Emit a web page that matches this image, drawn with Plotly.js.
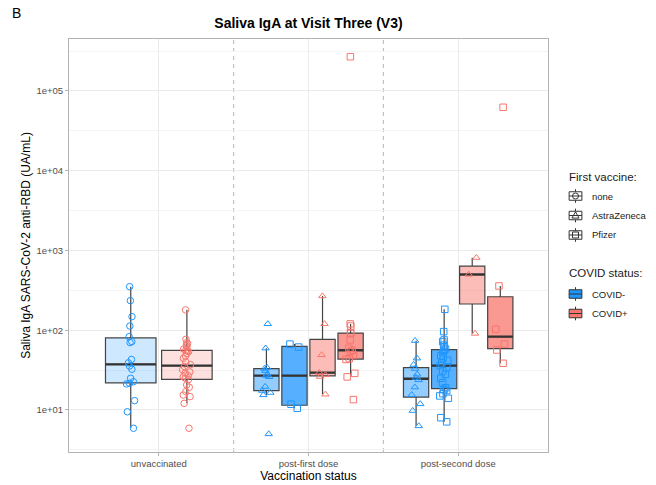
<!DOCTYPE html>
<html>
<head>
<meta charset="utf-8">
<script src="https://cdn.plot.ly/plotly-3.0.1.min.js"></script>
<style>
  html, body { margin: 0; padding: 0; background: #ffffff; }
  #chart { width: 656px; height: 485px; }
</style>
</head>
<body>
<div id="chart"></div>
<script>
// ---- data -----------------------------------------------------------------
const categories = ['unvaccinated', 'post-first dose', 'post-second dose'];
const vaccines = ['none', 'AstraZeneca', 'Pfizer'];
const covidStatus = ['COVID-', 'COVID+'];

// Saliva IgA anti-RBD (UA/mL), one array per vaccination status / first vaccine / COVID status
const unvaccinatedNeg = [352, 235, 148, 113, 83, 72, 70, 43, 39, 35.6, 32.4, 25, 22.6, 21.6, 21.2, 13.1, 9.5, 5.9];
const unvaccinatedPos = [180, 77, 70, 68, 65, 62, 58, 56, 55, 54, 51, 47.5, 44.5, 40, 37, 35, 32, 30, 29, 27,
                         26, 25, 24, 20.6, 19.3, 17, 15.4, 14.7, 12.1, 5.9];
const firstAzNeg = [120, 59.5, 34, 33, 31, 28, 27, 26, 19.6, 17.5, 16.5, 15.4, 5.0];
const firstPfNeg = [67, 61.5, 11.8, 10.5];
const firstAzPos = [268, 120, 49, 29.4, 27.5, 26.2, 15.7];
const firstPfPos = [269000, 120, 113, 93, 91, 75.5, 59.5, 56, 54, 49, 44, 43, 28.8, 26, 13.5];
const secondAzNeg = [74, 44.5, 37, 33, 28, 25.5, 23.8, 19.3, 15.5, 11.9, 9.8, 6.3];
const secondPfNeg = [183, 96, 75.5, 72, 65, 62, 58, 56, 52, 48, 45, 42, 39, 36, 34, 31, 28, 25, 22, 19,
                     18, 17.5, 16, 15, 14, 8, 7.1];
const secondAzPos = [813, 500, 91];
const secondPfPos = [62500, 359, 103, 67, 56.5, 38.5];

const yTickValues = [1e1, 1e2, 1e3, 1e4, 1e5];
const yTickLabels = ['1e+01', '1e+02', '1e+03', '1e+04', '1e+05'];

// groups in dodge order within each vaccination status
const groups = [
  { cat: 0, vac: 0, cov: 0, vals: unvaccinatedNeg },
  { cat: 0, vac: 0, cov: 1, vals: unvaccinatedPos },
  { cat: 1, vac: 1, cov: 0, vals: firstAzNeg },
  { cat: 1, vac: 2, cov: 0, vals: firstPfNeg },
  { cat: 1, vac: 1, cov: 1, vals: firstAzPos },
  { cat: 1, vac: 2, cov: 1, vals: firstPfPos },
  { cat: 2, vac: 1, cov: 0, vals: secondAzNeg },
  { cat: 2, vac: 2, cov: 0, vals: secondPfNeg },
  { cat: 2, vac: 1, cov: 1, vals: secondAzPos },
  { cat: 2, vac: 2, cov: 1, vals: secondPfPos }
];

// ---- styling ----------------------------------------------------------------
const covidRGB = ['30,150,255', '248,118,109'];
const vaccineAlpha = [0.22, 0.48, 0.75];
const vaccineSymbol = ['circle-open', 'triangle-up-open', 'square-open'];
const boxLine = '#444444';
const FONT = 'Liberation Sans, Arial, Helvetica, sans-serif';

// Tukey box statistics computed on the log10 scale (quantile type 7)
function quantile(sorted, p) {
  const h = (sorted.length - 1) * p;
  const lo = Math.floor(h), hi = Math.ceil(h);
  return sorted[lo] + (h - lo) * (sorted[hi] - sorted[lo]);
}
function boxStats(vals) {
  const l = vals.map(v => Math.log10(v)).sort((a, b) => a - b);
  const q1 = quantile(l, 0.25), med = quantile(l, 0.5), q3 = quantile(l, 0.75);
  const iqr = q3 - q1;
  const lo = l.find(v => v >= q1 - 1.5 * iqr);
  const hi = l.slice().reverse().find(v => v <= q3 + 1.5 * iqr);
  const p = v => Math.pow(10, v);
  return { q1: p(q1), median: p(med), q3: p(q3), lower: p(lo), upper: p(hi) };
}

// dodge positions: 0.75 of each category, split between its groups, 10% padding
const dodgeWidth = 0.75;
categories.forEach((c, ci) => {
  const members = groups.filter(g => g.cat === ci);
  const slot = dodgeWidth / members.length;
  members.forEach((g, i) => {
    g.pos = ci + 1 - dodgeWidth / 2 + slot * (i + 0.5);
    g.width = slot * 0.9;
  });
});

const boxTraces = [], medianTraces = [], pointTraces = [];
groups.forEach(g => {
  const s = boxStats(g.vals);
  const rgb = covidRGB[g.cov];
  boxTraces.push({
    type: 'box', x: [g.pos], q1: [s.q1], median: [s.median], q3: [s.q3],
    lowerfence: [s.lower], upperfence: [s.upper], width: g.width,
    fillcolor: `rgba(${rgb},${vaccineAlpha[g.vac]})`,
    line: { color: boxLine, width: 1.2 }, whiskerwidth: 0,
    boxpoints: false, showlegend: false, hoverinfo: 'skip'
  });
  medianTraces.push({
    type: 'box', x: [g.pos], q1: [s.median], median: [s.median], q3: [s.median],
    lowerfence: [s.median], upperfence: [s.median], width: g.width,
    fillcolor: 'rgba(0,0,0,0)', line: { color: '#333333', width: 2.4 }, whiskerwidth: 0,
    boxpoints: false, showlegend: false, hoverinfo: 'skip'
  });
  pointTraces.push({
    type: 'box', x: g.vals.map(() => g.pos), y: g.vals, width: g.width,
    boxpoints: 'all', pointpos: 0, jitter: Math.min(0.45, 0.036 / (g.width / 2)),
    fillcolor: 'rgba(0,0,0,0)', line: { color: 'rgba(0,0,0,0)', width: 0 }, whiskerwidth: 0,
    marker: { symbol: vaccineSymbol[g.vac], size: 6.5, color: `rgb(${rgb})`, line: { width: 1 } },
    showlegend: false, hoverinfo: 'skip'
  });
});

// ---- frame geometry (pixels) ------------------------------------------------
const W = 656, H = 485;
const L = 69, R = 548, T = 39, B = 452;
const px = v => (v - L) / (R - L);
const py = v => (B - v) / (B - T);

const shapes = [];
// dashed separators between vaccination statuses
for (let i = 1; i < categories.length; i++) {
  shapes.push({ type: 'line', xref: 'x', yref: 'paper', x0: i + 0.5, x1: i + 0.5, y0: 0, y1: 1,
                line: { color: '#b5b5b5', width: 1, dash: '4px,4px' }, layer: 'below' });
}

// ---- legends ------------------------------------------------------------------
const annotations = [];
const keyX = 575.5, textX = 590;
function keyGlyph(cy, fill) {
  const half = 8.5;
  const bw = 0.75 * 17 / 2, bh = 0.5 * 17 / 2;
  const ln = { color: '#333333', width: 1 };
  shapes.push({ type: 'line', xref: 'paper', yref: 'paper', x0: px(keyX), x1: px(keyX),
                y0: py(cy - half + 1.7), y1: py(cy - bh), line: ln });
  shapes.push({ type: 'line', xref: 'paper', yref: 'paper', x0: px(keyX), x1: px(keyX),
                y0: py(cy + bh), y1: py(cy + half - 1.7), line: ln });
  shapes.push({ type: 'rect', xref: 'paper', yref: 'paper', x0: px(keyX - bw), x1: px(keyX + bw),
                y0: py(cy + bh), y1: py(cy - bh), line: ln, fillcolor: fill });
  shapes.push({ type: 'line', xref: 'paper', yref: 'paper', x0: px(keyX - bw), x1: px(keyX + bw),
                y0: py(cy), y1: py(cy), line: ln });
}
function keyMarker(cy, vac) {
  const base = { xref: 'paper', yref: 'paper', xsizemode: 'pixel', ysizemode: 'pixel',
                 xanchor: px(keyX), yanchor: py(cy), line: { color: '#333333', width: 1 },
                 fillcolor: 'rgba(0,0,0,0)' };
  if (vac === 0) shapes.push(Object.assign({ type: 'circle', x0: -3, x1: 3, y0: -3, y1: 3 }, base));
  if (vac === 1) shapes.push(Object.assign({ type: 'path', path: 'M-3.6,-2.6 L3.6,-2.6 L0,3.6 Z' }, base));
  if (vac === 2) shapes.push(Object.assign({ type: 'rect', x0: -3, x1: 3, y0: -3, y1: 3 }, base));
}
function legendText(text, x, y, size) {
  annotations.push({ text, xref: 'paper', yref: 'paper', x: px(x), y: py(y), xanchor: 'left',
                     yanchor: 'middle', showarrow: false, font: { family: FONT, size, color: '#1a1a1a' } });
}

legendText('First vaccine:', 567, 177, 11.5);
const vacRows = [196, 215.5, 235];
vaccines.forEach((v, i) => {
  keyGlyph(vacRows[i], '#ffffff');
  keyMarker(vacRows[i], i);
  legendText(v, textX, vacRows[i], 9.5);
});
legendText('COVID status:', 567, 273, 11.5);
const covRows = [294, 313.5];
covidStatus.forEach((c, i) => {
  keyGlyph(covRows[i], `rgb(${covidRGB[i]})`);
  legendText(c, textX, covRows[i], 9.5);
});

// panel tag
annotations.push({ text: 'B', xref: 'paper', yref: 'paper', x: px(10), y: py(13), xanchor: 'left',
                   yanchor: 'middle', showarrow: false, font: { family: FONT, size: 14, color: '#000000' } });

// ---- layout -------------------------------------------------------------------
const minorVals = [Math.sqrt(10)].concat(yTickValues.map(v => v * Math.sqrt(10)));

const layout = {
  width: W, height: H,
  margin: { l: L, r: W - R, t: T, b: H - B, pad: 0 },
  paper_bgcolor: '#ffffff', plot_bgcolor: '#ffffff',
  font: { family: FONT, color: '#1a1a1a' },
  showlegend: false,
  boxmode: 'overlay',
  title: { text: 'Saliva IgA at Visit Three (V3)', x: px(308.5), xref: 'paper', xanchor: 'center',
           y: 1 - 23 / H, yref: 'container', yanchor: 'middle',
           font: { family: FONT, size: 14, color: '#000000', weight: 'bold' } },
  xaxis: {
    type: 'linear', range: [0.4, categories.length + 0.6],
    tickmode: 'array', tickvals: categories.map((c, i) => i + 1), ticktext: categories,
    showgrid: true, gridcolor: '#ebebeb', gridwidth: 1, zeroline: false,
    showline: true, mirror: true, linecolor: '#b3b3b3', linewidth: 1,
    ticks: 'outside', ticklen: 3, tickcolor: '#b3b3b3', tickwidth: 1,
    tickfont: { family: FONT, size: 9.5, color: '#4d4d4d' },
    title: { text: 'Vaccination status', font: { family: FONT, size: 12, color: '#000000' }, standoff: 3 },
    fixedrange: true
  },
  yaxis: {
    type: 'log', range: [0.473, 5.652],
    tickmode: 'array', tickvals: yTickValues, ticktext: yTickLabels,
    showgrid: true, gridcolor: '#ebebeb', gridwidth: 1, zeroline: false,
    minor: { tickmode: 'array', tickvals: minorVals, showgrid: true, gridcolor: '#f4f4f4', gridwidth: 1, ticks: '' },
    showline: true, mirror: true, linecolor: '#b3b3b3', linewidth: 1,
    ticks: 'outside', ticklen: 3, tickcolor: '#b3b3b3', tickwidth: 1,
    tickfont: { family: FONT, size: 9.5, color: '#4d4d4d' },
    title: { text: 'Saliva IgA SARS-CoV-2 anti-RBD (UA/mL)', font: { family: FONT, size: 12, color: '#000000' }, standoff: 3 },
    fixedrange: true
  },
  shapes, annotations
};

Plotly.newPlot('chart', boxTraces.concat(medianTraces, pointTraces), layout,
               { staticPlot: true, displayModeBar: false });
</script>
</body>
</html>
